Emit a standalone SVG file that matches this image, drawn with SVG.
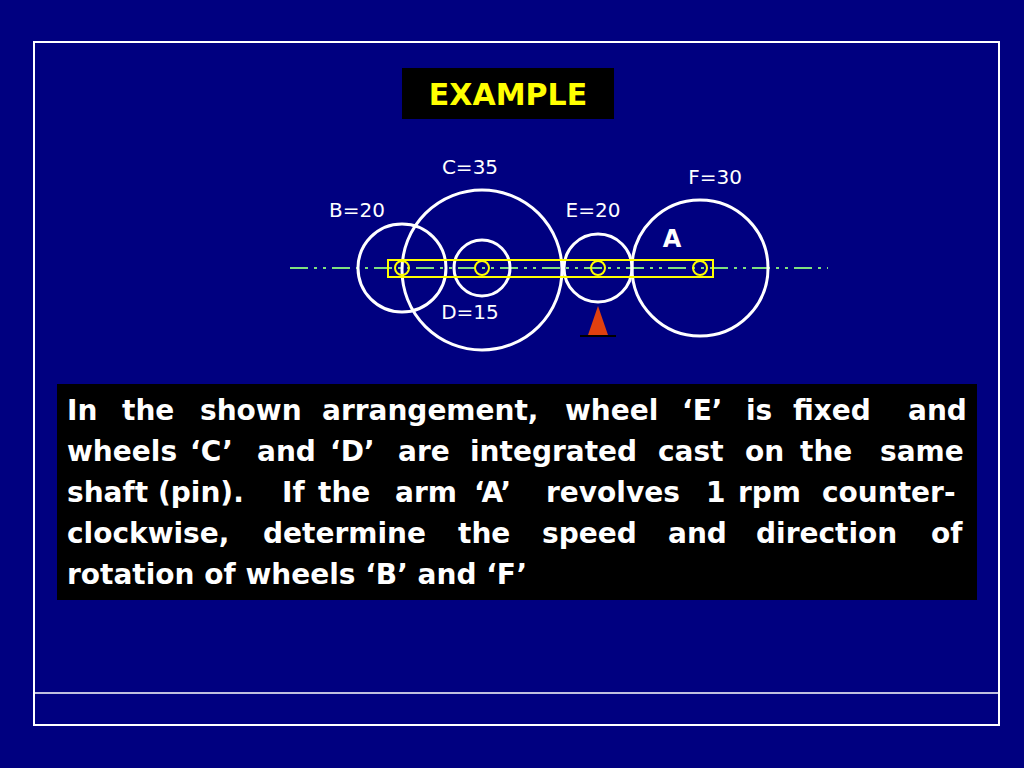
<svg xmlns="http://www.w3.org/2000/svg" width="1024" height="768" viewBox="0 0 1024 768">
<style>
.w{fill:none;stroke:#fff;stroke-width:3}
.y{fill:none;stroke:#ffff00;stroke-width:2}
.lbl{font-family:"DejaVu Sans",sans-serif;font-size:20px;fill:#fff}
.t{font-family:"DejaVu Sans",sans-serif;font-size:28px;font-weight:bold;fill:#fff}
</style>
<rect width="1024" height="768" fill="#000080"/>
<rect x="34" y="42" width="965" height="683" fill="none" stroke="#fff" stroke-width="2"/>
<line x1="34" y1="693" x2="999" y2="693" stroke="#fff" stroke-width="1.5"/>
<g id="title"><rect x="402" y="68" width="212" height="51" fill="#000"/>
<text x="508" y="105" text-anchor="middle" font-family="DejaVu Sans,sans-serif" font-size="30" font-weight="bold" fill="#ffff00">EXAMPLE</text></g>
<g id="axis"><line x1="290" y1="268" x2="828" y2="268" stroke="#7fe07f" stroke-width="2" stroke-dasharray="18,6,3,6,3,6"/></g>
<g id="B"><circle class="w" cx="402" cy="268" r="44"/><text class="lbl" x="357" y="217" text-anchor="middle">B=20</text></g>
<g id="C"><circle class="w" cx="482" cy="270" r="80"/><text class="lbl" x="470" y="174" text-anchor="middle">C=35</text></g>
<g id="D"><circle class="w" cx="482" cy="268" r="28"/><text class="lbl" x="470" y="319" text-anchor="middle">D=15</text></g>
<g id="E"><circle class="w" cx="598" cy="268" r="34"/><text class="lbl" x="593" y="217" text-anchor="middle">E=20</text></g>
<g id="F"><circle class="w" cx="700" cy="268" r="68"/><text class="lbl" x="715" y="184" text-anchor="middle">F=30</text></g>
<g id="arm"><rect class="y" x="388" y="260" width="325" height="17"/>
<circle class="y" cx="402" cy="268" r="7"/><circle class="y" cx="482" cy="268" r="7"/><circle class="y" cx="598" cy="268" r="7"/><circle class="y" cx="700" cy="268" r="7"/>
<text x="672" y="247" text-anchor="middle" font-family="DejaVu Sans,sans-serif" font-size="24" font-weight="bold" fill="#fff">A</text></g>
<g id="support"><polygon points="598,306 588,335 608,335" fill="#e04010"/><line x1="580" y1="336" x2="616" y2="336" stroke="#000" stroke-width="2"/></g>
<g id="problem"><rect x="57" y="384" width="920" height="216" fill="#000"/>
<text class="t" y="420"><tspan x="67">In</tspan><tspan x="122">the</tspan><tspan x="200">shown</tspan><tspan x="322">arrangement,</tspan><tspan x="565">wheel</tspan><tspan x="682">‘E’</tspan><tspan x="746">is</tspan><tspan x="793">fixed</tspan><tspan x="908">and</tspan></text>
<text class="t" y="461"><tspan x="67">wheels</tspan><tspan x="190">‘C’</tspan><tspan x="257">and</tspan><tspan x="330">‘D’</tspan><tspan x="398">are</tspan><tspan x="470">integrated</tspan><tspan x="658">cast</tspan><tspan x="745">on</tspan><tspan x="800">the</tspan><tspan x="880">same</tspan></text>
<text class="t" y="502"><tspan x="67">shaft</tspan><tspan x="158">(pin).</tspan><tspan x="282">If</tspan><tspan x="318">the</tspan><tspan x="395">arm</tspan><tspan x="474">‘A’</tspan><tspan x="546">revolves</tspan><tspan x="706">1</tspan><tspan x="738">rpm</tspan><tspan x="822">counter-</tspan></text>
<text class="t" y="543"><tspan x="67">clockwise,</tspan><tspan x="263">determine</tspan><tspan x="458">the</tspan><tspan x="542">speed</tspan><tspan x="668">and</tspan><tspan x="756">direction</tspan><tspan x="931">of</tspan></text>
<text class="t" x="67" y="584">rotation of wheels ‘B’ and ‘F’</text></g>
</svg>
